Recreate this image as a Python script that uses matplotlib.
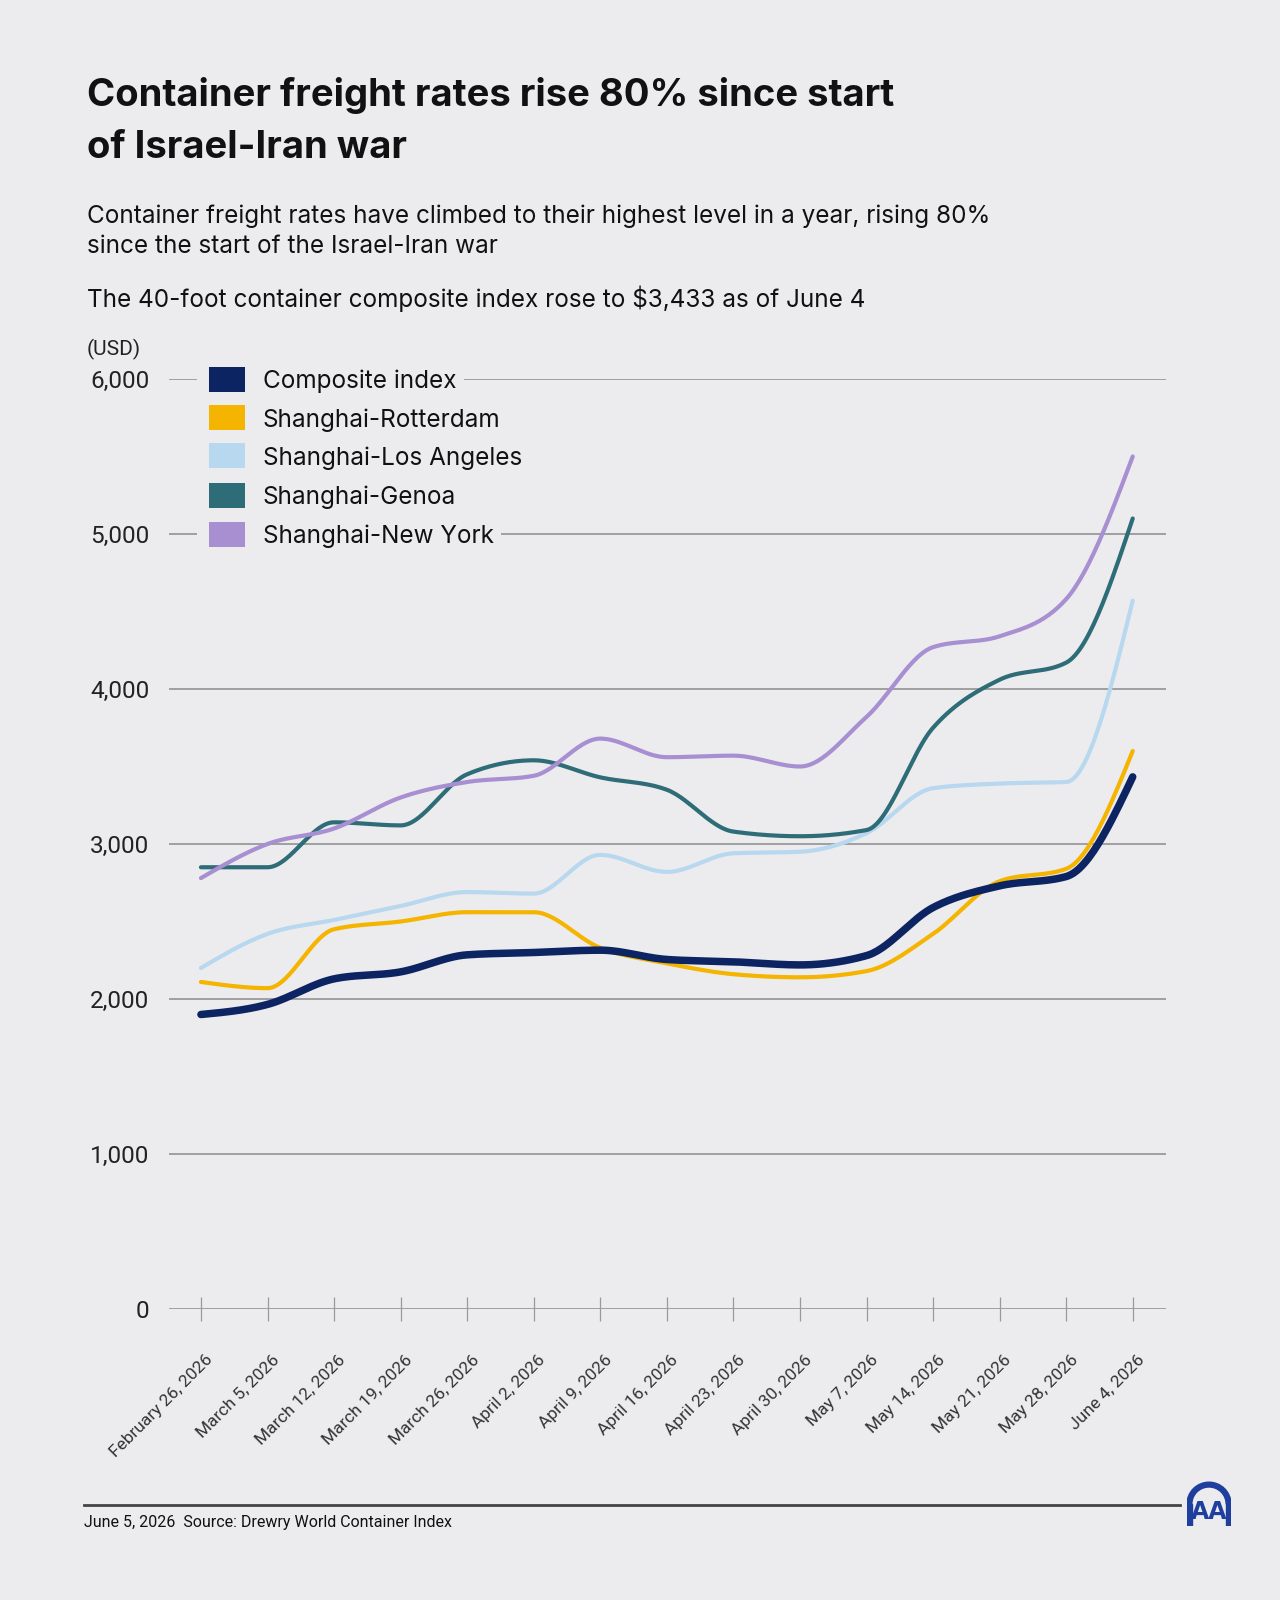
import numpy as np
import matplotlib
matplotlib.use("Agg")
import matplotlib.pyplot as plt
from matplotlib.patches import Rectangle, Wedge
from matplotlib.transforms import ScaledTranslation

# ---- data (USD per 40ft container) ----
dates = ["February 26, 2026", "March 5, 2026", "March 12, 2026", "March 19, 2026",
         "March 26, 2026", "April 2, 2026", "April 9, 2026", "April 16, 2026",
         "April 23, 2026", "April 30, 2026", "May 7, 2026", "May 14, 2026",
         "May 21, 2026", "May 28, 2026", "June 4, 2026"]

composite   = [1900, 1965, 2130, 2175, 2285, 2300, 2315, 2255, 2240, 2220, 2280, 2590, 2730, 2790, 3433]
rotterdam   = [2110, 2070, 2450, 2500, 2560, 2560, 2330, 2230, 2160, 2140, 2180, 2420, 2760, 2840, 3600]
los_angeles = [2200, 2420, 2510, 2600, 2690, 2680, 2930, 2820, 2940, 2950, 3070, 3360, 3390, 3400, 4570]
genoa       = [2850, 2850, 3140, 3120, 3450, 3540, 3430, 3350, 3080, 3050, 3090, 3750, 4060, 4170, 5100]
new_york    = [2780, 3000, 3100, 3300, 3400, 3440, 3680, 3560, 3570, 3500, 3820, 4270, 4340, 4580, 5500]

series_names = ["Composite index", "Shanghai-Rotterdam", "Shanghai-Los Angeles",
                "Shanghai-Genoa", "Shanghai-New York"]
series_colors = ["#0c2461", "#f4b400", "#b8d8ef", "#2e6d77", "#a78fd2"]
series_widths = [5.4, 3.0, 3.0, 3.0, 3.0]
yticks = [0, 1000, 2000, 3000, 4000, 5000, 6000]

BG = "#ececee"
TXT = "#111111"


def monotone(x, y, n=30):
	"""
	monotone cubic (d3 curveMonotoneX style) for drawing the smooth line
	"""
	x = np.asarray(x, float)
	y = np.asarray(y, float)
	h = np.diff(x)
	s = np.diff(y) / h
	m = np.zeros_like(y)
	for i in range(1, len(x) - 1):
		p = (s[i-1] * h[i] + s[i] * h[i-1]) / (h[i-1] + h[i])
		m[i] = (np.sign(s[i-1]) + np.sign(s[i])) * min(abs(s[i-1]), abs(s[i]), 0.5 * abs(p))
	m[0] = (3 * s[0] - m[1]) / 2 if s[0] * ((3 * s[0] - m[1]) / 2) > 0 else 0
	m[-1] = (3 * s[-1] - m[-2]) / 2 if s[-1] * ((3 * s[-1] - m[-2]) / 2) > 0 else 0
	xs, ys = [], []
	for i in range(len(x) - 1):
		t = np.linspace(0, 1, n, endpoint=(i == len(x) - 2))
		h00 = 2*t**3 - 3*t**2 + 1
		h10 = t**3 - 2*t**2 + t
		h01 = -2*t**3 + 3*t**2
		h11 = t**3 - t**2
		xs.append(x[i] + t * h[i])
		ys.append(h00*y[i] + h10*h[i]*m[i] + h01*y[i+1] + h11*h[i]*m[i+1])
	return np.concatenate(xs), np.concatenate(ys)


W, H = 1280, 1600
fig = plt.figure(figsize=(12.8, 16), dpi=100, facecolor=BG)

def fx(px):
	return px / W

def fy(py):
	return 1 - py / H

# axes: x from 169 to 1166 px, y 0 at 1309, 6000 at 379
ax = fig.add_axes([fx(169), fy(1309), fx(1166) - fx(169), fy(379) - fy(1309)])
ax.set_facecolor(BG)
for sp in ax.spines.values():
	sp.set_visible(False)

xi = np.arange(len(dates))
ax.set_xlim(-0.48, len(dates) - 1 + 0.5)
ax.set_ylim(0, 6000)

for v in yticks:
	ax.axhline(v, color="#9a9a9a", lw=1.3, zorder=1)

all_series = [composite, rotterdam, los_angeles, genoa, new_york]
order = [2, 3, 4, 1, 0]  # composite on top
for k in order:
	sx, sy = monotone(xi, all_series[k])
	ax.plot(sx, sy, color=series_colors[k], lw=series_widths[k],
			solid_capstyle="round", zorder=3 + (k == 0))

ax.set_yticks(yticks)
ax.set_yticklabels([f"{v:,}" for v in yticks], family="Roboto", fontsize=17.5, color="#222222")
ax.tick_params(axis="y", length=0, pad=14)

ax.set_xticks(xi)
ax.set_xticklabels([])
ax.tick_params(axis="x", direction="inout", length=17, width=0.9, color="#9a9a9a")

lab_off = ScaledTranslation(4 / 100, -43 / 100, fig.dpi_scale_trans)
for i, d in enumerate(dates):
	ax.text(i, 0, d, transform=ax.get_xaxis_transform() + lab_off,
			rotation=45, rotation_mode="anchor", ha="right", va="top",
			family="Roboto", fontsize=12.5, color="#333333")

# ---- legend drawn by hand so each label hides the gridline behind it ----
row_y = [379, 417.5, 456, 495, 534]
for k, name in enumerate(series_names):
	yy = row_y[k]
	fig.patches.append(Rectangle((fx(197), fy(yy + 17)), fx(270) - fx(197), 34 / H,
								transform=fig.transFigure, facecolor=BG, edgecolor="none", zorder=3))
	fig.patches.append(Rectangle((fx(209), fy(yy + 12.5)), 36 / W, 25 / H,
								transform=fig.transFigure, facecolor=series_colors[k],
								edgecolor="none", zorder=4))
	fig.text(fx(263), fy(yy), name, ha="left", va="center_baseline", family="Inter",
			 fontsize=17.5, color=TXT, zorder=4,
			 bbox=dict(boxstyle="square,pad=0.3", facecolor=BG, edgecolor="none"))

# ---- titles ----
fig.text(fx(87), fy(106), "Container freight rates rise 80% since start",
		 ha="left", va="baseline", family="Inter", fontweight="bold", fontsize=27.5, color=TXT)
fig.text(fx(87), fy(158), "of Israel-Iran war",
		 ha="left", va="baseline", family="Inter", fontweight="bold", fontsize=27.5, color=TXT)
fig.text(fx(87), fy(223), "Container freight rates have climbed to their highest level in a year, rising 80%",
		 ha="left", va="baseline", family="Inter", fontsize=17.5, color=TXT)
fig.text(fx(87), fy(253), "since the start of the Israel-Iran war",
		 ha="left", va="baseline", family="Inter", fontsize=17.5, color=TXT)
fig.text(fx(87), fy(307), "The 40-foot container composite index rose to $3,433 as of June 4",
		 ha="left", va="baseline", family="Inter", fontsize=17.5, color=TXT)
fig.text(fx(87), fy(355), "(USD)", ha="left", va="baseline", family="Roboto",
		 fontsize=15, color="#222222")

# ---- footer ----
fig.add_artist(plt.Line2D([fx(84), fx(1180)], [fy(1505), fy(1505)],
						  transform=fig.transFigure, color="#444444", lw=2))
fig.text(fx(84), fy(1527), "June 5, 2026  Source: Drewry World Container Index",
		 ha="left", va="baseline", family="Roboto", fontsize=11.5, color=TXT)

# AA logo (rough)
lax = fig.add_axes([fx(1187), fy(1526), 44 / W, 46 / H])
lax.set_xlim(-1, 1)
lax.set_ylim(-1.1, 1)
lax.axis("off")
lax.add_patch(Wedge((0, -0.1), 1.0, 0, 180, width=0.22, color="#1f3f9e"))
lax.add_patch(Rectangle((-1.0, -1.1), 0.22, 1.0, color="#1f3f9e"))
lax.add_patch(Rectangle((0.78, -1.1), 0.22, 1.0, color="#1f3f9e"))
lax.text(0, -0.48, "AA", ha="center", va="center", family="DejaVu Sans",
		 fontweight="bold", fontsize=17, color="#1f3f9e")

fig.savefig("out.png", dpi=100, facecolor=BG)
